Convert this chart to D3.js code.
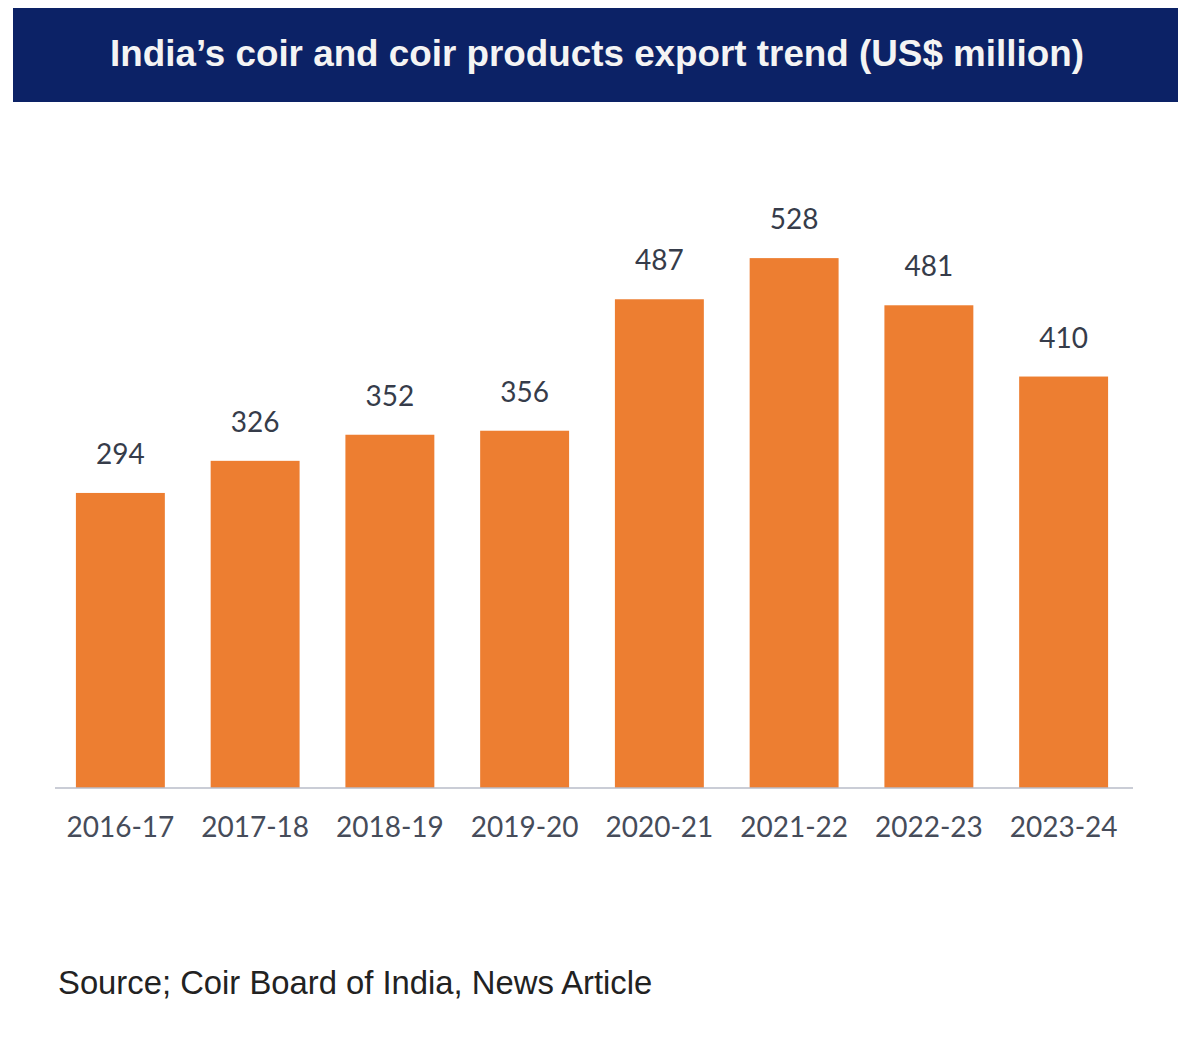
<!DOCTYPE html>
<html>
<head>
<meta charset="utf-8">
<script src="https://cdn.jsdelivr.net/npm/d3@7"></script>
<style>
  body { margin: 0; background: #fff; }
</style>
</head>
<body>
<script>
const w = 1200;
const h = 1044;

const years = ["2016-17", "2017-18", "2018-19", "2019-20", "2020-21", "2021-22", "2022-23", "2023-24"];
const exportsUSD = [294, 326, 352, 356, 487, 528, 481, 410];
const title = "India\u2019s coir and coir products export trend (US$ million)";
const source = "Source; Coir Board of India, News Article";

const barColor = "#ed7e31";
const navy = "#0c2266";

const svg = d3.select("body")
              .append("svg")
              .attr("width", w)
              .attr("height", h);

// title banner
svg.append("rect")
   .attr("x", 13)
   .attr("y", 8)
   .attr("width", 1165)
   .attr("height", 94)
   .attr("fill", navy);

svg.append("text")
   .attr("x", 597)
   .attr("y", 66)
   .attr("text-anchor", "middle")
   .attr("fill", "#f4f4f4")
   .attr("style", "font-family: 'Liberation Sans', Arial; font-weight: bold; font-size: 36.8px;")
   .text(title);

const x = d3.scaleBand()
            .domain(years)
            .range([53, 1131])
            .paddingInner(0.34)
            .paddingOuter(0.17);

const y = d3.scaleLinear()
            .domain([0, 560])
            .range([788, 226]);

svg.append("g")
   .selectAll("rect")
   .data(exportsUSD)
   .enter()
   .append("rect")
   .attr("x", (d, i) => x(years[i]))
   .attr("y", d => y(d))
   .attr("width", x.bandwidth())
   .attr("height", d => y(0) - y(d))
   .attr("fill", barColor);

// value labels
svg.append("g")
   .selectAll("text")
   .data(exportsUSD)
   .enter()
   .append("text")
   .attr("x", (d, i) => x(years[i]) + x.bandwidth() / 2)
   .attr("y", d => y(d) - 29)
   .attr("text-anchor", "middle")
   .attr("fill", "#363c4a")
   .attr("style", "font-family: Lato; font-size: 28px;")
   .text(d => d);

// baseline + category labels
const xAxis = svg.append("g")
   .attr("transform", "translate(0," + y(0) + ")")
   .call(d3.axisBottom(x).tickSize(0).tickPadding(29));

xAxis.select(".domain")
     .attr("d", "M55,0H1133")
     .attr("stroke", "#b9bdc8")
     .attr("stroke-width", 1.5);

xAxis.selectAll("text")
     .attr("fill", "#464c5a")
     .attr("style", "font-family: Lato; font-size: 28px;");

svg.append("text")
   .attr("x", 58)
   .attr("y", 994)
   .attr("fill", "#222")
   .attr("style", "font-family: 'Liberation Sans', Arial; font-size: 32.8px;")
   .text(source);
</script>
</body>
</html>
